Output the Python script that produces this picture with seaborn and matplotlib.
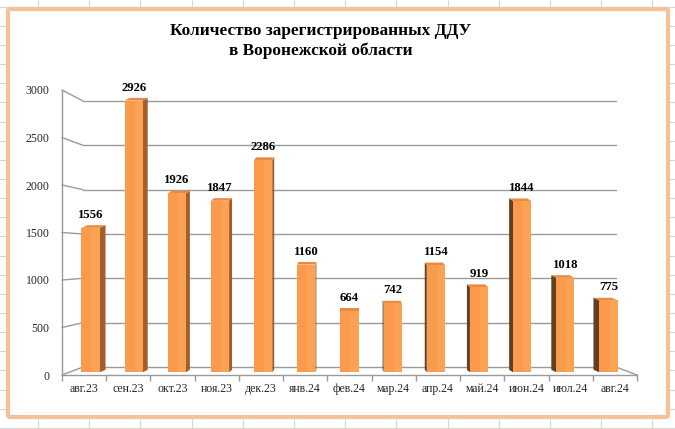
import numpy as np
import pandas as pd
import matplotlib
matplotlib.use("Agg")
import matplotlib.pyplot as plt
from matplotlib.lines import Line2D
from matplotlib.patches import Polygon, FancyBboxPatch
import seaborn as sns

# ---- data ----
months = ["авг.23", "сен.23", "окт.23", "ноя.23", "дек.23", "янв.24", "фев.24",
          "мар.24", "апр.24", "май.24", "июн.24", "июл.24", "авг.24"]
values = [1556, 2926, 1926, 1847, 2286, 1160, 664, 742, 1154, 919, 1844, 1018, 775]
yticks = [0, 500, 1000, 1500, 2000, 2500, 3000]
title1 = "Количество зарегистрированных ДДУ"
title2 = "в Воронежской области"

sns.set_theme(style="white")
plt.rcParams["font.family"] = ["Liberation Serif", "DejaVu Serif"]

W, H = 675, 429
fig = plt.figure(figsize=(W / 100, H / 100), dpi=100)
fig.patch.set_facecolor("white")


def fx(x):
    return x / W


def fy(y):
    return 1 - y / H


def rect(x0, y_top, x1, y_bot):
    return [fx(x0), fy(y_bot), (x1 - x0) / W, (y_bot - y_top) / H]


# ---- spreadsheet grid behind the chart ----
gcol = "#D6D6D6"
for k in range(14):
    x = 38 + 51.2 * k
    fig.add_artist(Line2D([fx(x), fx(x)], [0, 1], color=gcol, lw=0.8, zorder=0))
for k in range(-20, 8):
    y = 313 + 19.15 * k
    fig.add_artist(Line2D([0, 1], [fy(y), fy(y)], color=gcol, lw=0.8, zorder=0))

# ---- chart frame ----
frame = FancyBboxPatch((fx(8), fy(417)), (668 - 8) / W, (417 - 9) / H,
                       boxstyle="round,pad=0,rounding_size=0.004",
                       transform=fig.transFigure, facecolor="white",
                       edgecolor="#F3C29A", lw=3, zorder=1)
fig.add_artist(frame)

# ---- title ----
fig.text(fx(321), fy(31), title1, ha="center", va="center", fontsize=12.4,
         fontweight="bold", color="black", zorder=5)
fig.text(fx(321), fy(51), title2, ha="center", va="center", fontsize=12.4,
         fontweight="bold", color="black", zorder=5)

grid_col = "#9A9A9A"

# ---- back wall axes (gridlines) ----
ax_back = fig.add_axes(rect(83, 101, 616, 367), zorder=2)
ax_back.set_xlim(-0.5, 12.5)
ax_back.set_ylim(0, 3000)
ax_back.axis("off")
for v in yticks:
    ax_back.axhline(v, color=grid_col, lw=1, clip_on=False)

# ---- front axes (axis lines and labels) ----
ax_front = fig.add_axes(rect(62, 90, 637, 375), zorder=3)
ax_front.patch.set_alpha(0)
ax_front.set_xlim(-0.5, 12.5)
ax_front.set_ylim(0, 3000)
for s in ["top", "right"]:
    ax_front.spines[s].set_visible(False)
for s in ["left", "bottom"]:
    ax_front.spines[s].set_color(grid_col)
    ax_front.spines[s].set_linewidth(1)
ax_front.set_yticks(yticks)
ax_front.set_yticklabels([str(v) for v in yticks], fontsize=8.5)
ax_front.set_xticks(range(len(months)))
ax_front.set_xticklabels(months, fontsize=8.5)
ax_front.set_xticks(np.arange(-0.5, 13, 1), minor=True)
ax_front.tick_params(axis="y", length=0, pad=9)
ax_front.tick_params(axis="x", which="major", length=0, pad=6)
ax_front.tick_params(axis="x", which="minor", length=4, width=1, color=grid_col,
                     direction="out", bottom=True)

# connectors between front axis and back wall
inv = fig.transFigure.inverted()
for v in yticks:
    p0 = inv.transform(ax_front.transData.transform((-0.5, v)))
    p1 = inv.transform(ax_back.transData.transform((-0.5, v)))
    fig.add_artist(Line2D([p0[0], p1[0]], [p0[1], p1[1]], color=grid_col, lw=1, zorder=2))
p0 = inv.transform(ax_front.transData.transform((12.5, 0)))
p1 = inv.transform(ax_back.transData.transform((12.5, 0)))
fig.add_artist(Line2D([p0[0], p1[0]], [p0[1], p1[1]], color=grid_col, lw=1, zorder=2))

# ---- bars ----
t = 0.33
ax_bar = fig.add_axes(rect(62 + 21 * t, 90 + 11 * t, 637 - 21 * t, 375 - 8 * t), zorder=4)
ax_bar.patch.set_alpha(0)
df = pd.DataFrame({"month": months, "value": values})
front_col = "#F99A4C"
sns.barplot(data=df, x="month", y="value", ax=ax_bar, color=front_col,
            saturation=1, width=0.42, order=months)
ax_bar.set_xlim(-0.5, 12.5)
ax_bar.set_ylim(0, 3000)
ax_bar.axis("off")

center = 6.0
k = 0.023
dy = 28
for i, p in enumerate(ax_bar.patches):
    p.set_edgecolor("none")
    p.set_zorder(3)
    x0 = p.get_x()
    x1 = x0 + p.get_width()
    h = p.get_height()
    dx = (center - i) * k
    if dx > 0:
        side = [(x1, 0), (x1, h), (x1 + dx, h + dy), (x1 + dx, dy)]
        scol = "#A35F2B"
    else:
        side = [(x0, 0), (x0, h), (x0 + dx, h + dy), (x0 + dx, dy)]
        scol = "#62401F"
    ax_bar.add_patch(Polygon(side, closed=True, facecolor=scol, edgecolor="none", zorder=2))
    top = [(x0, h), (x1, h), (x1 + dx, h + dy), (x0 + dx, h + dy)]
    ax_bar.add_patch(Polygon(top, closed=True, facecolor="#E98A3E", edgecolor="none", zorder=2))
    # subtle lighter strip on the right of the front face
    ax_bar.add_patch(Polygon([(x0 + 0.55 * (x1 - x0), 0), (x1, 0), (x1, h), (x0 + 0.55 * (x1 - x0), h)],
                             closed=True, facecolor="#FFA85C", edgecolor="none", alpha=0.6, zorder=3))

ax_bar.bar_label(ax_bar.containers[0], labels=[str(v) for v in values], padding=5,
                 fontsize=9.2, fontweight="bold", color="black")

fig.savefig("out.png", dpi=100)
